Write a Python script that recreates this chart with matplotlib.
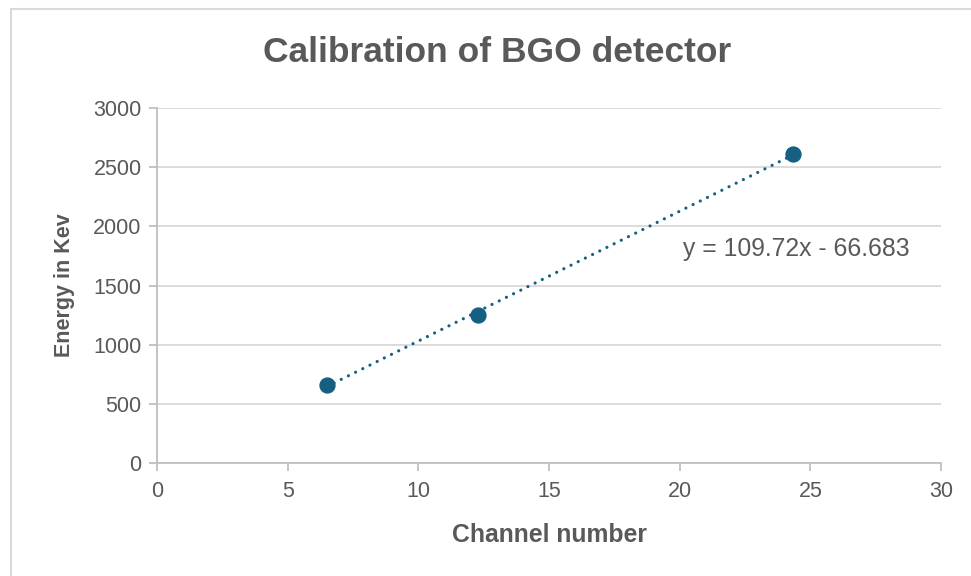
import numpy as np
import matplotlib.pyplot as plt
from matplotlib.patches import Rectangle

# calibration points (channel vs known gamma energy)
channel = [6.5, 12.28, 24.34]
energy = [662, 1252, 2614]

# trendline coefficients as shown on the chart
SLOPE = 109.72
INTERCEPT = -66.683
EQ_TEXT = "y = 109.72x - 66.683"

TITLE = "Calibration of BGO detector"
XLABEL = "Channel number"
YLABEL = "Energy in Kev"
XTICKS = [0, 5, 10, 15, 20, 25, 30]
YTICKS = [0, 500, 1000, 1500, 2000, 2500, 3000]

MARK_COLOR = '#156082'
TEXT_COLOR = '#595959'
GRID_COLOR = '#d9d9d9'
AXIS_COLOR = '#bfbfbf'

plt.rcParams['font.family'] = ['Liberation Sans', 'DejaVu Sans']

fig = plt.figure(figsize=(9.71, 5.76), dpi=100)
W, H = 971, 576
ax = fig.add_axes([157 / W, 1 - 463 / H, (941 - 157) / W, (463 - 108) / H])

# chart frame
fig.patches.append(Rectangle((11 / W, -0.1), 1.1, 1 - 9 / H + 0.1, transform=fig.transFigure,
                             fill=False, edgecolor=GRID_COLOR, linewidth=1.5))

# trendline between first and last point (dotted)
xs = np.array([min(channel), max(channel)])
ax.plot(xs, SLOPE * xs + INTERCEPT, linestyle=(0, (0.01, 2.5)), color=MARK_COLOR,
        linewidth=2.3, dash_capstyle='round', zorder=3)
ax.scatter(channel, energy, s=115, color=MARK_COLOR, zorder=4)

ax.set_xlim(0, 30)
ax.set_ylim(0, 3000)
ax.set_xticks(XTICKS)
ax.set_yticks(YTICKS)
ax.grid(axis='y', color=GRID_COLOR, linewidth=1.3)
ax.set_axisbelow(True)

for s in ['top', 'right']:
    ax.spines[s].set_visible(False)
for s in ['left', 'bottom']:
    ax.spines[s].set_color(AXIS_COLOR)
    ax.spines[s].set_linewidth(1.3)
ax.tick_params(colors=AXIS_COLOR, labelcolor=TEXT_COLOR, labelsize=15.5,
               length=6, width=1.3)
ax.tick_params(axis='x', pad=7)
ax.tick_params(axis='y', pad=5)

ax.set_xlabel(XLABEL, fontsize=17.8, fontweight='bold', color=TEXT_COLOR, labelpad=15)
ax.set_ylabel(YLABEL, fontsize=15.5, fontweight='bold', color=TEXT_COLOR, labelpad=13)
fig.text(497 / W, 1 - 52 / H, TITLE, fontsize=25.5, fontweight='bold', color=TEXT_COLOR,
         ha='center', va='center')

ax.text(796 / W, 1 - 249 / H, EQ_TEXT, transform=fig.transFigure, fontsize=17.8,
        color=TEXT_COLOR, ha='center', va='center')

fig.savefig('out.png', dpi=100)
